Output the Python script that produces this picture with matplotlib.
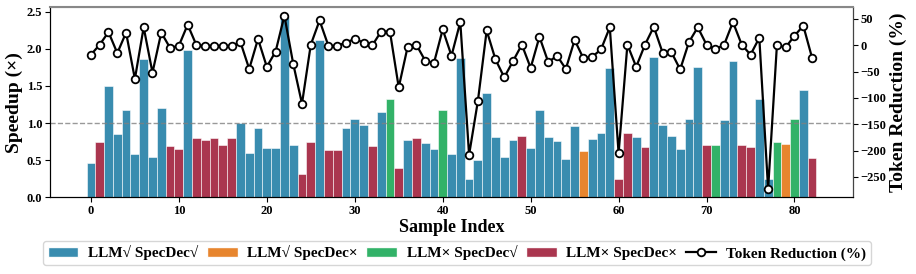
import numpy as np
import matplotlib
matplotlib.use('Agg')
import matplotlib.pyplot as plt
from matplotlib.patches import Patch
from matplotlib.lines import Line2D
from matplotlib.ticker import MultipleLocator

plt.rcParams['font.family'] = ['Liberation Serif', 'DejaVu Serif']
plt.rcParams['font.weight'] = 'bold'

# speedup per sample
speedup = [0.46, 0.74, 1.50, 0.86, 1.18, 0.58, 1.86, 0.55, 1.20, 0.69,
           0.65, 1.98, 0.80, 0.77, 0.80, 0.71, 0.80, 1.00, 0.60, 0.94,
           0.66, 0.66, 2.43, 0.70, 0.32, 0.74, 2.12, 0.64, 0.64, 0.94,
           1.05, 0.97, 0.69, 1.15, 1.32, 0.39, 0.77, 0.80, 0.73, 0.65,
           1.17, 0.58, 1.88, 0.25, 0.51, 1.41, 0.82, 0.54, 0.77, 0.83,
           0.66, 1.18, 0.81, 0.76, 0.52, 0.96, 0.62, 0.79, 0.87, 1.74,
           0.25, 0.87, 0.82, 0.68, 1.89, 0.97, 0.83, 0.65, 1.06, 1.76,
           0.71, 0.70, 1.04, 1.83, 0.70, 0.68, 1.33, 0.25, 0.74, 0.72,
           1.06, 1.45, 0.53]

# category: 0 = LLM ok / SpecDec ok, 1 = LLM ok / SpecDec fail,
#           2 = LLM fail / SpecDec ok, 3 = both fail
category = [0, 3, 0, 0, 0, 0, 0, 0, 0, 3,
            3, 0, 3, 3, 3, 3, 3, 0, 0, 0,
            0, 0, 0, 0, 3, 3, 0, 3, 3, 0,
            0, 0, 3, 0, 2, 3, 0, 3, 0, 0,
            2, 0, 0, 0, 0, 0, 0, 0, 0, 3,
            0, 0, 0, 0, 0, 0, 1, 0, 0, 0,
            3, 3, 0, 3, 0, 0, 0, 0, 0, 0,
            3, 2, 0, 0, 3, 3, 0, 0, 2, 1,
            2, 0, 3]

# token reduction (%)
token_red = [-18, 1, 25, -15, 24, -64, 34, -52, 24, -5,
             -1, 39, 0, -1, -1, -1, -1, 6, -45, 12,
             -41, -12, 56, -35, -111, 1, 47, -1, -1, 5,
             12, 5, 0, 26, 26, -80, -4, 1, -29, -34,
             30, -20, 44, -208, -106, 28, -27, -61, -30, 1,
             -43, 16, -32, -20, -45, 10, -25, -22, -8, 34,
             -205, 1, -41, 1, 35, -14, -13, -46, 6, 34,
             1, -8, 1, 44, 1, -18, 14, -273, 0, -4,
             18, 37, -24]

labels = ['LLM√ SpecDec√', 'LLM√ SpecDec×', 'LLM× SpecDec√', 'LLM× SpecDec×']
colors = ['#2E86AB', '#E67E22', '#27AE60', '#A62B45']

idx = np.arange(len(speedup))
bar_colors = [colors[c] for c in category]

fig = plt.figure(figsize=(9.16, 2.74), dpi=100)
ax = fig.add_axes([0.0546, 0.2792, 0.8766, 0.6942])
ax.bar(idx, speedup, width=1.0, color=bar_colors, edgecolor='white',
       linewidth=0.4, alpha=0.95)
ax.axhline(1.0, color='gray', linestyle='--', linewidth=1, alpha=0.8)
ax.set_ylim(0, 2.557)
ax.xaxis.set_major_locator(MultipleLocator(10))
ax.set_xlabel('Sample Index', fontsize=13, fontweight='bold', labelpad=1)
ax.set_ylabel('Speedup (×)', fontsize=14, fontweight='bold', labelpad=3)
ax.tick_params(labelsize=9, pad=2)
for t in ax.get_xticklabels() + ax.get_yticklabels():
    t.set_fontweight('bold')

ax2 = ax.twinx()
ax2.plot(idx, token_red, color='black', linewidth=1.6, marker='o',
         markersize=5.5, markerfacecolor='white', markeredgecolor='black',
         markeredgewidth=1.3)
ax2.set_ylim(-289, 72)
ax2.yaxis.set_major_locator(MultipleLocator(50))
ax2.set_ylabel('Token Reduction (%)', fontsize=14, fontweight='bold', labelpad=2)
ax2.tick_params(labelsize=9, pad=2)
for t in ax2.get_yticklabels():
    t.set_fontweight('bold')
ax2.spines['top'].set_color('#888888')
ax2.spines['top'].set_linewidth(1.5)
ax.spines['top'].set_color('#888888')
ax2.spines['right'].set_color('#444444')

handles = [Patch(facecolor=c, edgecolor='white', alpha=0.95) for c in colors]
handles.append(Line2D([], [], color='black', linewidth=1.6, marker='o',
                      markersize=5.5, markerfacecolor='white',
                      markeredgecolor='black', markeredgewidth=1.3))
fig.legend(handles, labels + ['Token Reduction (%)'], loc='center',
           bbox_to_anchor=(0.499, 1 - 253 / 274), ncol=5, frameon=True,
           prop={'size': 11, 'weight': 'bold'}, columnspacing=0.55,
           handletextpad=0.65, borderpad=0.3)

fig.savefig('out.png', dpi=100)
